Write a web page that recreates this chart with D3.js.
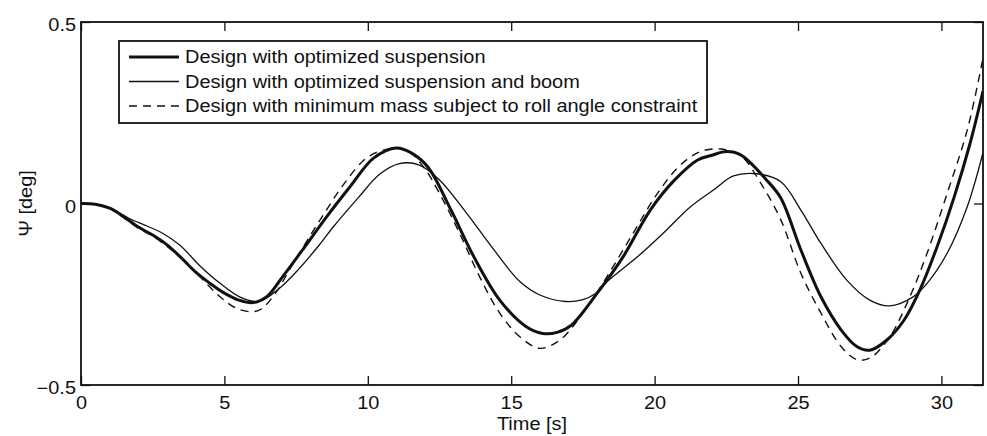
<!DOCTYPE html>
<html>
<head>
<meta charset="utf-8">
<script src="https://cdn.jsdelivr.net/npm/d3@7"></script>
<style>
  body { margin: 0; background: #fff; }
  text { font-family: "Liberation Sans", Arial, sans-serif; fill: #111; }
</style>
</head>
<body>
<div id="chart"></div>
<script>
// Ψ [deg] vs Time [s], three designs
const xTicks = [0, 5, 10, 15, 20, 25, 30];
const yTicks = [-0.5, 0, 0.5];
const yTickLabels = ["\u22120.5", "0", "0.5"];

const seriesNames = [
    "Design with optimized suspension",
    "Design with optimized suspension and boom",
    "Design with minimum mass subject to roll angle constraint"
];

// [time, psi]
const optSuspension = [
    [0, 0], [0.5, -0.002], [1, -0.013], [1.5, -0.037], [2, -0.065], [2.5, -0.087],
    [3, -0.114], [3.5, -0.15], [4, -0.189], [4.5, -0.22], [5, -0.247], [5.5, -0.266],
    [6, -0.273], [6.5, -0.255], [7, -0.205], [7.64, -0.137], [8.57, -0.036], [9.38, 0.046],
    [10.2, 0.125], [11, 0.153], [11.5, 0.14], [12.1, 0.1], [12.9, -0.018], [13.7, -0.147],
    [14.6, -0.266], [15.5, -0.338], [16.1, -0.358], [16.6, -0.355], [17.1, -0.335],
    [18, -0.247], [18.9, -0.147], [19.85, -0.018], [20.7, 0.065], [21.5, 0.12], [22, 0.133],
    [22.5, 0.143], [23, 0.134], [23.9, 0.065], [24.4, 0.015], [25.1, -0.128], [25.8, -0.257],
    [26.5, -0.348], [27.05, -0.394], [27.5, -0.404], [28.1, -0.376], [28.7, -0.321],
    [29.25, -0.238], [29.85, -0.119], [30.45, 0.019], [31, 0.166], [31.45, 0.31]
];

const optSuspensionBoom = [
    [0, 0], [0.66, -0.004], [1.2, -0.02], [1.7, -0.042], [2.3, -0.062], [2.8, -0.08],
    [3.45, -0.115], [4.15, -0.172], [4.85, -0.22], [5.55, -0.258], [6.2, -0.27], [6.9, -0.235],
    [7.6, -0.18], [8.3, -0.115], [8.8, -0.064], [9.7, 0.019], [10.4, 0.08], [11.1, 0.11],
    [11.8, 0.106], [12.5, 0.065], [13.45, -0.027], [14.4, -0.128], [15.3, -0.215], [16, -0.252],
    [16.9, -0.27], [17.5, -0.265], [17.9, -0.25], [18.35, -0.215], [19.4, -0.147], [20.3, -0.082],
    [21.25, -0.009], [22.05, 0.037], [22.75, 0.076], [23.55, 0.082], [24.4, 0.06], [25.1, -0.018],
    [25.8, -0.11], [26.7, -0.211], [27.5, -0.266], [28.2, -0.282], [29, -0.258], [29.5, -0.22],
    [30.2, -0.137], [30.9, -0.009], [31.45, 0.14]
];

const minMass = [
    [0, 0], [0.5, -0.002], [1, -0.013], [1.5, -0.04], [2, -0.068], [2.5, -0.09], [3, -0.118],
    [3.45, -0.147], [4.15, -0.202], [4.85, -0.257], [5.45, -0.29], [6, -0.298], [6.3, -0.29],
    [6.8, -0.245], [7.3, -0.178], [7.9, -0.1], [8.5, -0.025], [9.15, 0.052], [9.95, 0.125],
    [10.65, 0.149], [11.35, 0.147], [11.95, 0.1], [12.5, 0.028], [13.2, -0.082], [13.9, -0.202],
    [14.6, -0.302], [15.3, -0.367], [16, -0.399], [16.7, -0.376], [17.5, -0.302], [18.35, -0.2],
    [19.25, -0.082], [20.1, 0.028], [20.9, 0.106], [21.6, 0.143], [22.3, 0.15], [23, 0.132],
    [23.7, 0.056], [24.4, -0.045], [25.1, -0.192], [25.8, -0.302], [26.5, -0.394], [27.05, -0.43],
    [27.5, -0.426], [28.2, -0.367], [28.9, -0.257], [29.5, -0.137], [30.2, 0.028], [30.9, 0.202],
    [31.45, 0.4]
];

var margin = { top: 22, right: 4, bottom: 51, left: 81 },
    width = 987 - margin.left - margin.right,
    height = 436 - margin.top - margin.bottom;

var svg = d3.select("#chart")
    .append("svg")
    .attr("width", 987)
    .attr("height", 436)
    .append("g")
    .attr("transform", `translate(${margin.left},${margin.top})`);

var x = d3.scaleLinear().domain([0, 31.45]).range([0, width]);
var y = d3.scaleLinear().domain([-0.5, 0.5]).range([height, 0]);

// 曲線
var line = d3.line()
    .x(d => x(d[0]))
    .y(d => y(d[1]))
    .curve(d3.curveCatmullRom.alpha(0.5));

var styles = [
    { w: 3, dash: null },
    { w: 1.3, dash: null },
    { w: 1.4, dash: "8,6" }
];

svg.append("clipPath").attr("id", "clip")
    .append("rect").attr("width", width).attr("height", height);

[optSuspension, optSuspensionBoom, minMass].forEach((s, i) => {
    svg.append("path")
        .datum(s)
        .attr("clip-path", "url(#clip)")
        .attr("fill", "none")
        .attr("stroke", "#111")
        .attr("stroke-width", styles[i].w)
        .attr("stroke-dasharray", styles[i].dash)
        .attr("stroke-linejoin", "round")
        .attr("d", line);
});

// 軸 (ticks inward, box all around)
var tickLen = 9;
svg.append("g")
    .attr("transform", `translate(0,${height})`)
    .call(d3.axisBottom(x).tickValues(xTicks).tickSize(-tickLen).tickPadding(12).tickFormat(d3.format("d")))
    .call(g => g.select(".domain").remove());
svg.append("g")
    .call(d3.axisTop(x).tickValues(xTicks).tickSize(-tickLen).tickFormat(""))
    .call(g => g.select(".domain").remove());
svg.append("g")
    .call(d3.axisLeft(y).tickValues(yTicks).tickSize(-tickLen).tickPadding(5).tickFormat((d, i) => yTickLabels[i]))
    .call(g => g.select(".domain").remove());
svg.append("g")
    .attr("transform", `translate(${width},0)`)
    .call(d3.axisRight(y).tickValues(yTicks).tickSize(-tickLen).tickFormat(""))
    .call(g => g.select(".domain").remove());

svg.selectAll(".tick line").attr("stroke", "#111").attr("stroke-width", 1.3);
svg.selectAll(".tick text")
    .style("font-size", "17.5px")
    .style("font-family", "'Liberation Sans', Arial, sans-serif")
    .attr("fill", "#111");
// y labels sit slightly below their ticks
svg.selectAll(".tick text").filter(function () { return this.getAttribute("x") !== null && +this.getAttribute("x") < 0; })
    .attr("dy", "0.5em");

svg.append("rect")
    .attr("width", width).attr("height", height)
    .attr("fill", "none").attr("stroke", "#111").attr("stroke-width", 1.8);

// 軸標籤
svg.append("text")
    .attr("text-anchor", "middle")
    .attr("x", width / 2)
    .attr("y", height + 45)
    .style("font-size", "17.5px")
    .text("Time [s]");

svg.append("text")
    .attr("text-anchor", "middle")
    .attr("transform", "rotate(-90)")
    .attr("x", -(203.5 - margin.top))
    .attr("y", -margin.left + 32)
    .style("font-size", "17.5px")
    .text("\u03A8 [deg]");

// 圖例
var lg = svg.append("g").attr("transform", `translate(${119 - margin.left},${41 - margin.top})`);
lg.append("rect")
    .attr("width", 588).attr("height", 82)
    .attr("fill", "#fff").attr("stroke", "#111").attr("stroke-width", 1.8);

seriesNames.forEach((name, i) => {
    var ry = 16 + i * 24.5;
    lg.append("line")
        .attr("x1", 10).attr("x2", 60)
        .attr("y1", ry).attr("y2", ry)
        .attr("stroke", "#111")
        .attr("stroke-width", styles[i].w)
        .attr("stroke-dasharray", styles[i].dash);
    lg.append("text")
        .attr("x", 66)
        .attr("y", ry)
        .attr("dy", "0.36em")
        .style("font-size", "17.5px")
        .text(name);
});

// the original lettering runs a bit wider than Liberation Sans
svg.selectAll("text").each(function () {
    var t = d3.select(this);
    if (!t.text()) return;
    var len = this.getComputedTextLength();
    t.attr("textLength", len * 1.14).attr("lengthAdjust", "spacingAndGlyphs");
});
</script>
</body>
</html>
